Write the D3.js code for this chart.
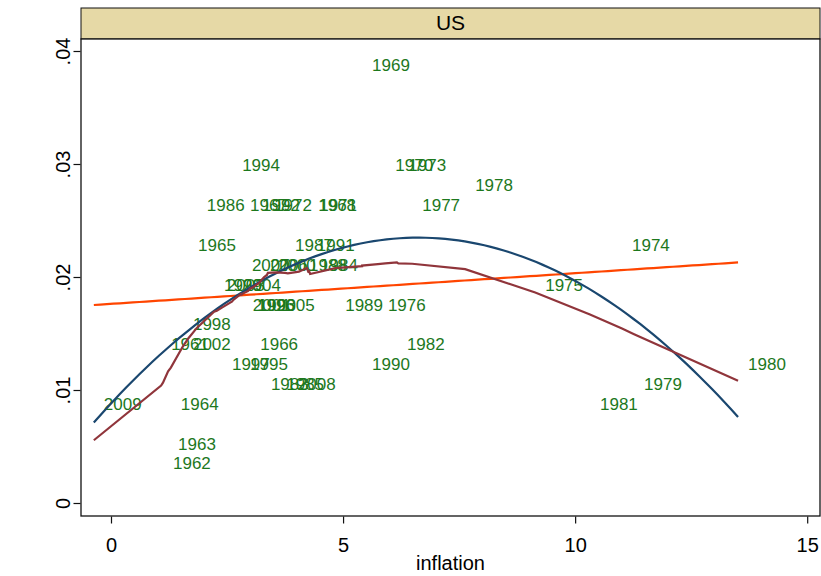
<!DOCTYPE html>
<html>
<head>
<meta charset="utf-8">
<script src="https://cdn.jsdelivr.net/npm/d3@7/dist/d3.min.js"></script>
<style>
  html, body { margin: 0; padding: 0; background: #ffffff; }
  svg { display: block; font-family: "Liberation Sans", Arial, Helvetica, sans-serif; }
</style>
</head>
<body>
<svg id="chart" width="821" height="576"></svg>
<script>
// US: year-by-year observations, labelled by year
const years = [1961, 1962, 1963, 1964, 1965, 1966, 1967, 1968, 1969, 1970,
               1971, 1972, 1973, 1974, 1975, 1976, 1977, 1978, 1979, 1980,
               1981, 1982, 1983, 1984, 1985, 1986, 1987, 1988, 1989, 1990,
               1991, 1992, 1993, 1994, 1995, 1996, 1997, 1998, 1999, 2000,
               2001, 2002, 2003, 2004, 2005, 2006, 2007, 2008, 2009];
const inflation = [1.08, 1.12, 1.23, 1.29, 1.66, 3.00, 2.78, 4.25, 5.41, 5.91,
                   4.27, 3.30, 6.19, 11.01, 9.14, 5.75, 6.49, 7.63, 11.27, 13.51,
                   10.32, 6.16, 3.23, 4.29, 3.56, 1.85, 3.75, 4.05, 4.83, 5.41,
                   4.22, 3.04, 2.95, 2.61, 2.78, 2.93, 2.39, 1.55, 2.22, 3.38,
                   2.84, 1.55, 2.28, 2.63, 3.36, 3.21, 2.82, 3.81, -0.37];
const outcome = [0.0141, 0.0035, 0.0052, 0.0088, 0.0228, 0.0141, 0.0264, 0.0264, 0.0388, 0.0299,
                 0.0264, 0.0264, 0.0299, 0.0228, 0.0193, 0.0175, 0.0264, 0.0281, 0.0105, 0.0123,
                 0.0088, 0.0141, 0.0105, 0.0211, 0.0105, 0.0264, 0.0228, 0.0211, 0.0175, 0.0123,
                 0.0228, 0.0264, 0.0175, 0.0299, 0.0123, 0.0175, 0.0123, 0.0158, 0.0193, 0.0211,
                 0.0175, 0.0141, 0.0193, 0.0193, 0.0175, 0.0211, 0.0211, 0.0105, 0.0088];

const panelTitle = "US";
const xTitle = "inflation";
const xTicks = [0, 5, 10, 15];
const xTickLabels = ["0", "5", "10", "15"];
const yTicks = [0, 0.01, 0.02, 0.03, 0.04];
const yTickLabels = ["0", ".01", ".02", ".03", ".04"];

const svg = d3.select("#chart");

// plot region geometry
const plot = { left: 81, right: 820, top: 39, bottom: 516 };
const strip = { top: 8, bottom: 39 };

const x = d3.scaleLinear().domain([0, 15]).range([111, 807.2]);
const y = d3.scaleLinear().domain([0, 0.04]).range([503, 51]);

// ---- fits ----
const n = years.length;
const xMin = d3.min(inflation), xMax = d3.max(inflation);
const grid = d3.range(100).map(i => xMin + (xMax - xMin) * i / 99);

function solve(A, b) {
  const m = A.length;
  const M = A.map((row, i) => row.concat([b[i]]));
  for (let c = 0; c < m; c++) {
    let p = c;
    for (let r = c + 1; r < m; r++) if (Math.abs(M[r][c]) > Math.abs(M[p][c])) p = r;
    [M[c], M[p]] = [M[p], M[c]];
    for (let r = 0; r < m; r++) {
      if (r === c) continue;
      const f = M[r][c] / M[c][c];
      for (let k = c; k <= m; k++) M[r][k] -= f * M[c][k];
    }
  }
  return M.map((row, i) => row[m] / row[i]);
}

function polyFit(deg) {
  const size = deg + 1;
  const A = d3.range(size).map(() => new Array(size).fill(0));
  const b = new Array(size).fill(0);
  for (let i = 0; i < n; i++) {
    for (let r = 0; r < size; r++) {
      b[r] += outcome[i] * Math.pow(inflation[i], r);
      for (let c = 0; c < size; c++) A[r][c] += Math.pow(inflation[i], r + c);
    }
  }
  const coef = solve(A, b);
  return grid.map(v => [v, coef.reduce((s, cf, k) => s + cf * Math.pow(v, k), 0)]);
}

function lowess(bw) {
  const order = d3.range(n).sort((a, b) => inflation[a] - inflation[b] || years[a] - years[b]);
  const X = order.map(i => inflation[i]);
  const Y = order.map(i => outcome[i]);
  const k = Math.floor((n * bw - 0.5) / 2);
  return X.map((xi, i) => {
    const lo = Math.max(0, i - k), hi = Math.min(n - 1, i + k);
    const delta = 1.0001 * Math.max(X[hi] - xi, xi - X[lo]);
    let sw = 0, swx = 0, swy = 0, swxx = 0, swxy = 0;
    for (let j = lo; j <= hi; j++) {
      const u = Math.abs(X[j] - xi) / delta;
      const w = Math.pow(1 - u * u * u, 3);
      sw += w; swx += w * X[j]; swy += w * Y[j];
      swxx += w * X[j] * X[j]; swxy += w * X[j] * Y[j];
    }
    const den = sw * swxx - swx * swx;
    const slope = den === 0 ? 0 : (sw * swxy - swx * swy) / den;
    const icpt = (swy - slope * swx) / sw;
    return [xi, icpt + slope * xi];
  });
}

// ---- frame ----
svg.append("rect")
  .attr("x", plot.left).attr("y", strip.top)
  .attr("width", plot.right - plot.left).attr("height", strip.bottom - strip.top)
  .attr("fill", "#e6d9a6").attr("stroke", "#111").attr("stroke-width", 1);
svg.append("text")
  .attr("x", (plot.left + plot.right) / 2).attr("y", 30)
  .attr("text-anchor", "middle").attr("font-size", 21).attr("fill", "#000")
  .text(panelTitle);

svg.append("defs").append("clipPath").attr("id", "clip")
  .append("rect").attr("x", plot.left).attr("y", plot.top)
  .attr("width", plot.right - plot.left).attr("height", plot.bottom - plot.top);

svg.append("rect")
  .attr("x", plot.left).attr("y", plot.top)
  .attr("width", plot.right - plot.left).attr("height", plot.bottom - plot.top)
  .attr("fill", "#fff");

// ---- year labels ----
const g = svg.append("g").attr("clip-path", "url(#clip)");
g.selectAll("text.yr")
  .data(d3.range(n))
  .join("text")
  .attr("class", "yr")
  .attr("x", i => x(inflation[i]) + 10)
  .attr("y", i => y(outcome[i]))
  .attr("dy", "0.35em")
  .attr("font-size", 17)
  .attr("fill", "#1d781d")
  .text(i => years[i]);

// ---- fitted lines ----
const line = d3.line().x(d => x(d[0])).y(d => y(d[1]));
g.append("path").datum(polyFit(1))
  .attr("d", line).attr("fill", "none").attr("stroke", "#ff4500").attr("stroke-width", 2.2);
g.append("path").datum(polyFit(2))
  .attr("d", line).attr("fill", "none").attr("stroke", "#1a476f").attr("stroke-width", 2.2);
g.append("path").datum(lowess(0.8))
  .attr("d", line).attr("fill", "none").attr("stroke", "#90353b").attr("stroke-width", 2.2);

// plot border
svg.append("rect")
  .attr("x", plot.left).attr("y", plot.top)
  .attr("width", plot.right - plot.left).attr("height", plot.bottom - plot.top)
  .attr("fill", "none").attr("stroke", "#111").attr("stroke-width", 1.3);

// ---- axes ----
const yAxis = d3.axisLeft(y).tickValues(yTicks).tickSize(7).tickPadding(8)
  .tickFormat((d, i) => yTickLabels[i]);
const ya = svg.append("g").attr("transform", `translate(${plot.left - 0.5},0)`).call(yAxis);
ya.select(".domain").remove();
ya.selectAll(".tick line").attr("stroke", "#111").attr("stroke-width", 1.2);
ya.selectAll(".tick text")
  .attr("font-size", 20).attr("fill", "#000")
  .attr("font-family", "Liberation Sans, Arial, sans-serif")
  .attr("text-anchor", "middle").attr("dy", 0)
  .attr("x", null)
  .attr("transform", "translate(-11,0) rotate(-90)");

const xAxis = d3.axisBottom(x).tickValues(xTicks).tickSize(7).tickPadding(14)
  .tickFormat((d, i) => xTickLabels[i]);
const xa = svg.append("g").attr("transform", `translate(0,${plot.bottom + 0.5})`).call(xAxis);
xa.select(".domain").remove();
xa.selectAll(".tick line").attr("stroke", "#111").attr("stroke-width", 1.2);
xa.selectAll(".tick text")
  .attr("font-size", 20).attr("fill", "#000")
  .attr("font-family", "Liberation Sans, Arial, sans-serif");

svg.append("text")
  .attr("x", (plot.left + plot.right) / 2).attr("y", 570)
  .attr("text-anchor", "middle").attr("font-size", 20).attr("fill", "#000")
  .text(xTitle);
</script>
</body>
</html>
